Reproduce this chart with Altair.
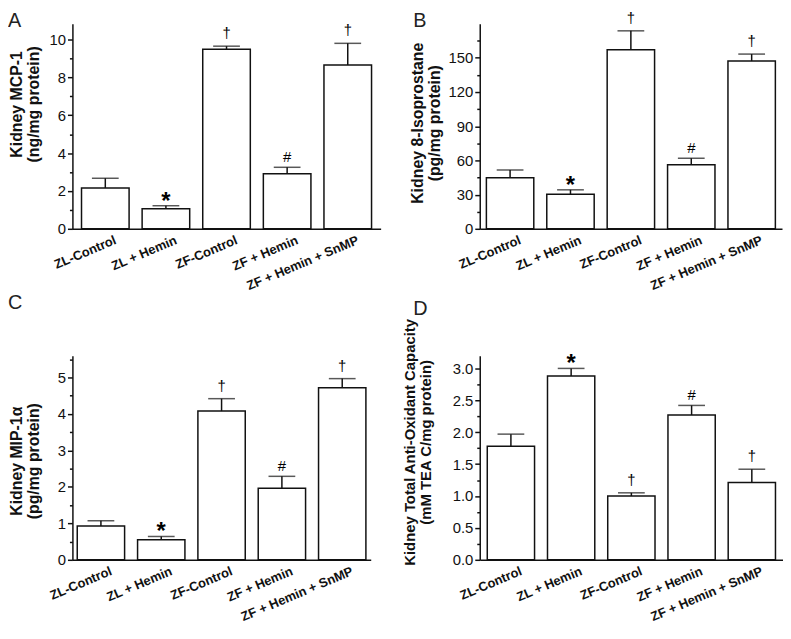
import altair as alt
import pandas as pd

# ---------------- data ----------------
groups = ["ZL-Control", "ZL + Hemin", "ZF-Control", "ZF + Hemin", "ZF + Hemin + SnMP"]
sig_marks = ["", "*", "\u2020", "#", "\u2020"]

mcp1_mean = [2.16, 1.06, 9.49, 2.91, 8.66]
mcp1_sem = [0.51, 0.16, 0.16, 0.34, 1.14]

iso_mean = [44.7, 30.4, 157.2, 56.1, 147.2]
iso_sem = [6.9, 3.8, 16.5, 5.8, 6.1]

mip_mean = [0.93, 0.55, 4.08, 1.96, 4.72]
mip_sem = [0.14, 0.09, 0.34, 0.33, 0.25]

tac_mean = [1.78, 2.88, 1.00, 2.27, 1.21]
tac_sem = [0.19, 0.12, 0.05, 0.15, 0.21]

mcp1_ticks = [0, 1, 2, 3, 4, 5, 6, 7, 8, 9, 10]
iso_ticks = [0, 15, 30, 45, 60, 75, 90, 105, 120, 135, 150, 165]
mip_ticks = [0, 0.5, 1, 1.5, 2, 2.5, 3, 3.5, 4, 4.5, 5, 5.5]
tac_ticks = [0, 0.25, 0.5, 0.75, 1.0, 1.25, 1.5, 1.75, 2.0, 2.25, 2.5, 2.75, 3.0]

FONT = "Liberation Sans"
INK = "#111111"
LW = 1.5


def panel(means, sems, ticks, major, fmt, ymax, title_lines, title_size,
          title_x, title_y, letter, letter_x, letter_y, width, height, pad_outer):
    df = pd.DataFrame({"group": groups, "mean": means, "sem": sems, "sig": sig_marks})
    base = alt.Chart(df).transform_calculate(top="datum.mean + datum.sem")

    test = f"abs(datum.value / {major} - round(datum.value / {major})) < 0.001"
    y_axis = alt.Axis(
        values=ticks, format=fmt, labelExpr=f"{test} ? datum.label : ''",
        tickSize={"condition": {"test": test, "value": 5}, "value": 3},
        title=title_lines, titleX=title_x, titleY=title_y,
        titleFontSize=title_size, titleFontWeight="bold",
        titleLineHeight=title_size + 1, titleBaseline="bottom",
        labelFontSize=15, labelPadding=2, labelOverlap=False, grid=False,
        domainWidth=LW, tickWidth=LW,
    )
    x_axis = alt.Axis(
        title=None, labelAngle=337, labelAlign="right", labelBaseline="top",
        labelFontWeight="bold", labelFontSize=13, labelPadding=5, labelOffset=8,
        ticks=False, domainWidth=LW, labelLimit=300, labelOverlap=False,
    )
    xs = alt.Scale(paddingInner=0.215, paddingOuter=pad_outer)
    ys = alt.Scale(domain=[0, ymax], nice=False, zero=True)

    xo = alt.X("group:N", sort=groups, scale=xs, axis=x_axis)
    bars = base.mark_bar(fill="white", stroke=INK, strokeWidth=LW).encode(
        x=xo, y=alt.Y("mean:Q", scale=ys, axis=y_axis),
    )
    rule = base.mark_rule(color=INK, strokeWidth=LW).encode(
        x=xo, y=alt.Y("mean:Q", scale=ys, axis=y_axis), y2=alt.Y2("top:Q"))
    cap = base.mark_tick(color=INK, thickness=LW, size=27, orient="horizontal").encode(
        x=xo, y=alt.Y("top:Q", scale=ys, axis=y_axis))

    texts = []
    for sym, fs, fw, dy in [("*", 24, "bold", 3), ("#", 15, "normal", -5), ("\u2020", 15, "normal", -8)]:
        texts.append(
            base.transform_filter(alt.datum.sig == sym).mark_text(
                font=FONT, fontSize=fs, fontWeight=fw, dy=dy, baseline="alphabetic",
                align="center", color="#000000",
            ).encode(x=xo, y=alt.Y("top:Q", scale=ys, axis=y_axis), text="sig:N")
        )

    letter_layer = alt.Chart(pd.DataFrame({"t": [letter]})).mark_text(
        font=FONT, fontSize=20, align="left", baseline="top", color="#222222"
    ).encode(text="t:N", x=alt.value(letter_x), y=alt.value(letter_y))

    return alt.layer(bars, rule, cap, *texts, letter_layer).properties(width=width, height=height)


pA = panel(mcp1_mean, mcp1_sem, mcp1_ticks, 2, ".0f", 10.84,
           ["Kidney MCP-1", "(ng/mg protein)"], 16, -48, 81, "A", -65, -13, 311, 207, 0.15)
pB = panel(iso_mean, iso_sem, iso_ticks, 30, ".0f", 180,
           ["Kidney 8-Isoprostane", "(pg/mg protein)"], 16, -55, 100, "B", -67, -13, 305, 207, 0.11)
pC = panel(mip_mean, mip_sem, mip_ticks, 1, ".0f", 5.6,
           ["Kidney MIP-1\u03b1", "(pg/mg protein)"], 16, -48, 106, "C", -65, -63, 301, 206, 0.08)
pD = panel(tac_mean, tac_sem, tac_ticks, 0.5, ".1f", 3.2,
           ["Kidney Total Anti-Oxidant Capacity", "(mM TEA C/mg protein)"], 15, -63, 87, "D", -67, -57, 306, 206, 0.125)

chart = alt.concat(
    pA, pB, pC, pD, columns=2, spacing={"row": 128, "column": 100}
).properties(
    bounds="flush", padding={"top": 0, "left": 0, "right": 0, "bottom": 0}
).configure(
    font=FONT
).configure_view(
    stroke=None
).configure_axis(
    labelFont=FONT, titleFont=FONT, domainColor=INK, tickColor=INK,
    labelColor=INK, titleColor=INK, labelOverlap=False,
)

chart.save("out.html", embed_options={"renderer": "svg", "actions": False})
